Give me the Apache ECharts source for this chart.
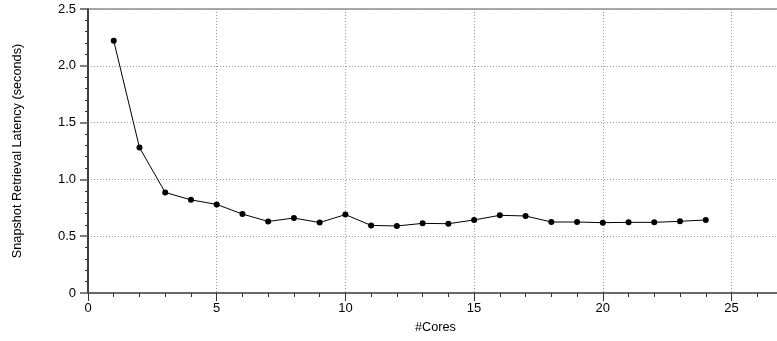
<!DOCTYPE html>
<html>
<head>
<meta charset="utf-8">
<script src="https://cdn.jsdelivr.net/npm/echarts@6/dist/echarts.min.js"></script>
<style>
html,body{margin:0;padding:0;background:#fff;overflow:hidden;}
#chart{width:777px;height:341px;}
</style>
</head>
<body>
<div id="chart"></div>
<script>
const cores = [1,2,3,4,5,6,7,8,9,10,11,12,13,14,15,16,17,18,19,20,21,22,23,24];
const latency = [2.22,1.28,0.885,0.82,0.78,0.695,0.63,0.66,0.62,0.69,0.595,0.59,0.613,0.61,0.643,0.684,0.678,0.625,0.625,0.619,0.622,0.622,0.631,0.643];
const xTitle = '#Cores';
const yTitle = 'Snapshot Retrieval Latency (seconds)';

const font = 'Liberation Sans, Arial, Helvetica, sans-serif';
const chart = echarts.init(document.getElementById('chart'), null, {renderer:'canvas'});
chart.setOption({
  animation:false,
  grid:{left:88, top:9, width:772.2, height:284, outerBoundsMode:'none', containLabel:false,
        show:true, borderColor:'#555', borderWidth:1.2, backgroundColor:'transparent'},
  xAxis:{
    type:'value', min:0, max:30, interval:5,
    name:xTitle, nameLocation:'start', nameGap:0,
    nameTextStyle:{fontFamily:font, fontSize:12.7, color:'#000', align:'center', verticalAlign:'top', padding:[28,0,0,695]},
    axisLine:{show:true, onZero:false, lineStyle:{color:'#555', width:1.5}},
    axisTick:{show:true, length:8, lineStyle:{color:'#333', width:1}},
    minorTick:{show:true, splitNumber:5, length:4, lineStyle:{color:'#333', width:1}},
    axisLabel:{fontFamily:font, fontSize:13, color:'#000', margin:9},
    splitLine:{show:true, lineStyle:{color:'#999', type:[1,2], width:1}}
  },
  yAxis:{
    type:'value', min:0, max:2.5, interval:0.5,
    name:yTitle, nameLocation:'middle', nameGap:64,
    nameTextStyle:{fontFamily:font, fontSize:12.7, color:'#000'},
    axisLine:{show:true, onZero:false, lineStyle:{color:'#222', width:1.5}},
    axisTick:{show:true, length:8, lineStyle:{color:'#555', width:1.5}},
    minorTick:{show:true, splitNumber:5, length:3, lineStyle:{color:'#333', width:1}},
    axisLabel:{fontFamily:font, fontSize:13, color:'#000', margin:12,
      formatter:function(v){return v===0?'0':v.toFixed(1);}},
    splitLine:{show:true, lineStyle:{color:'#999', type:[1,2], width:1}}
  },
  series:[{
    type:'line',
    data:cores.map((c,i)=>[c, latency[i]]),
    symbol:'circle', symbolSize:6,
    lineStyle:{color:'#000', width:1},
    itemStyle:{color:'#000'}
  }]
});
</script>
</body>
</html>
